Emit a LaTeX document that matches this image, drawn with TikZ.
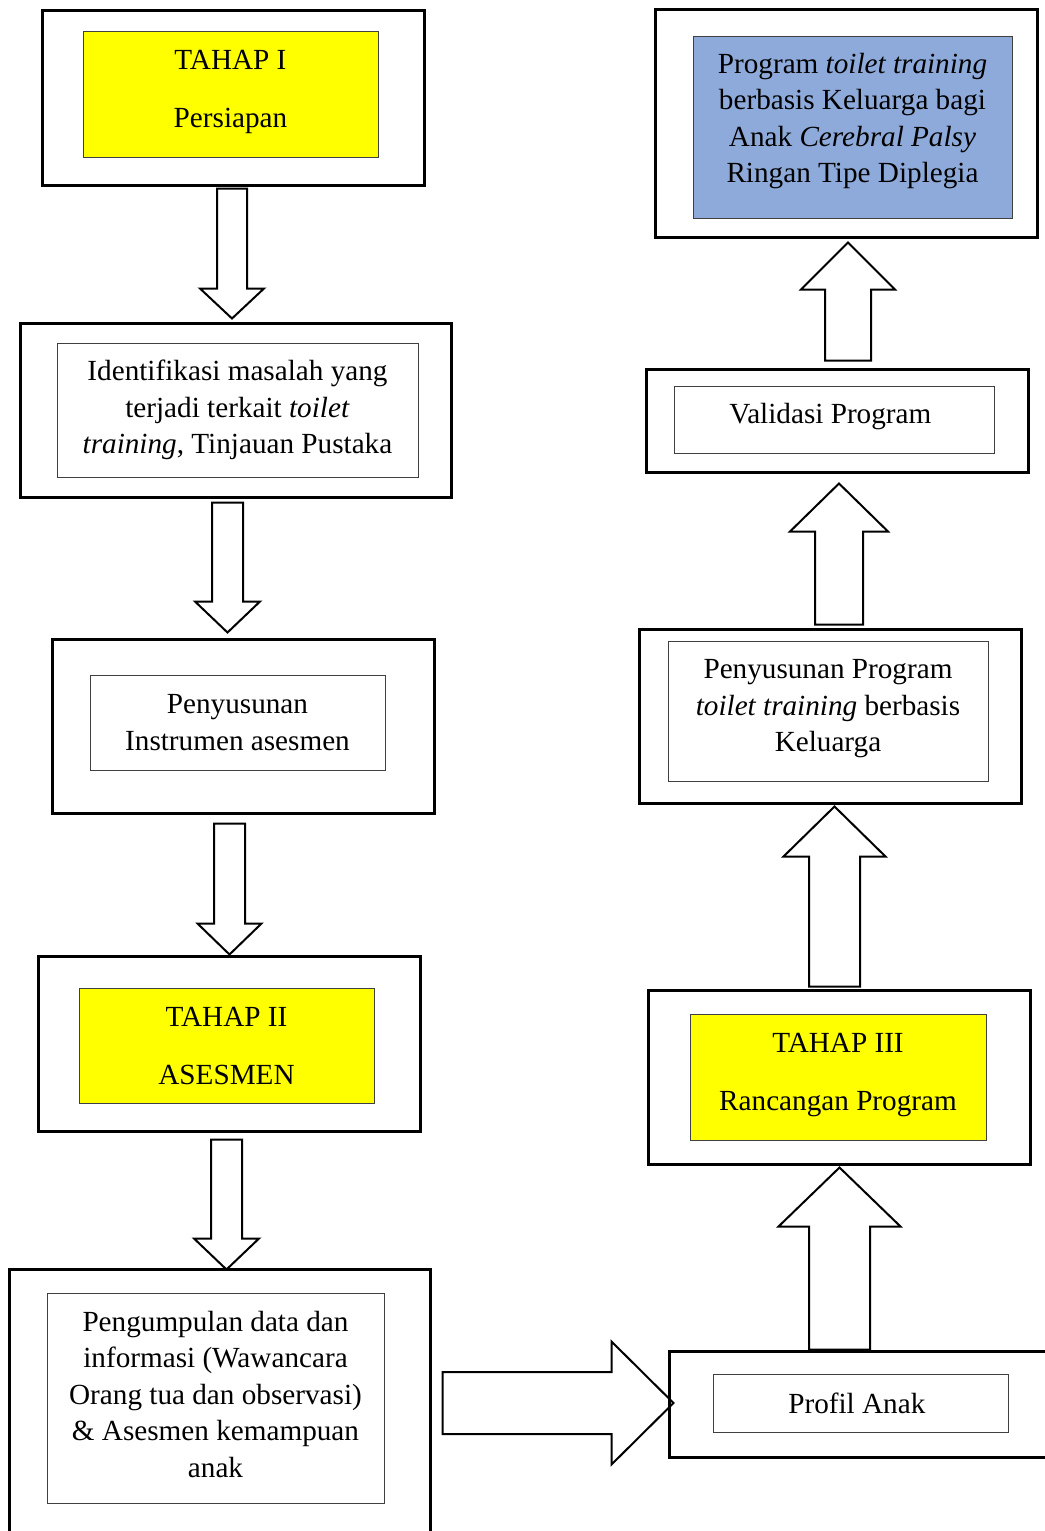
\documentclass[tikz,border=0pt]{standalone}
\usepackage{fontspec}
\setmainfont{Liberation Serif}
\usepackage{tikz}
\usetikzlibrary{calc}

\definecolor{stageyellow}{HTML}{FFFF00}
\definecolor{resultblue}{HTML}{8EAADB}

\newcommand{\blockarrow}[5]{%
  \path (#1) coordinate (ba-s);
  \path (#2) coordinate (ba-t);
  \path ($(ba-t)!#5!(ba-s)$) coordinate (ba-h);
  \draw[fatarrow] ($(ba-s)!#3!90:(ba-t)$) -- ($(ba-h)!#3!90:(ba-t)$)
    -- ($(ba-h)!#4!90:(ba-t)$) -- (ba-t) -- ($(ba-h)!#4!-90:(ba-t)$)
    -- ($(ba-h)!#3!-90:(ba-t)$) -- ($(ba-s)!#3!-90:(ba-t)$) -- cycle;
}

\begin{document}
\begin{tikzpicture}[
    x=0.5pt, y=-0.5pt,
    font={\fontsize{14.6}{18.25}\selectfont},
    outerbox/.style={
        rectangle,
        draw,
        line width=1.5pt,
        inner sep=0pt
    },
    innerbox/.style={
        rectangle,
        draw=black!75,
        line width=0.5pt,
        align=center,
        inner sep=0pt
    },
    fatarrow/.style={line width=1pt}
]
\useasboundingbox (0,0) rectangle (1044,1531);

\node[outerbox, minimum width=191pt, minimum height=87.5pt] (prep) at (233,97.5) {};
\node[innerbox, fill=stageyellow, minimum width=147.5pt, minimum height=63pt, text depth=5pt] (prep-in) at (230.5,94) {
    TAHAP I\\[10.75pt]Persiapan
};

\node[outerbox, minimum width=215.5pt, minimum height=87pt] (ident) at (235.5,410) {};
\node[innerbox, minimum width=180.5pt, minimum height=67pt] (ident-in) at (237.5,410) {
    Identifikasi masalah yang\\
    terjadi terkait \textit{toilet}\\
    \textit{training}, Tinjauan Pustaka
};

\node[outerbox, minimum width=191pt, minimum height=87pt] (instr) at (243,726) {};
\node[innerbox, minimum width=147.5pt, minimum height=47.5pt] (instr-in) at (237.5,722.5) {
    Penyusunan\\
    Instrumen asesmen
};

\node[outerbox, minimum width=191pt, minimum height=87.5pt] (asesmen) at (229,1043.5) {};
\node[innerbox, fill=stageyellow, minimum width=147.5pt, minimum height=57.5pt] (asesmen-in) at (226.5,1045.5) {
    TAHAP II\\[10.75pt]ASESMEN
};

\node[outerbox, minimum width=210.5pt, minimum height=138pt] (collect) at (219.5,1407) {};
\node[innerbox, minimum width=168.5pt, minimum height=105pt, text depth=4pt] (collect-in) at (215.5,1398) {
    Pengumpulan data dan\\
    informasi (Wawancara\\
    Orang tua dan observasi)\\
    \& Asesmen kemampuan\\
    anak
};

\node[outerbox, minimum width=195.5pt, minimum height=53pt] (profil) at (864.5,1404) {};
\node[innerbox, minimum width=147.5pt, minimum height=29pt] (profil-in) at (860.5,1403) {
    Profil Anak
};

\node[outerbox, minimum width=191pt, minimum height=87pt] (design) at (839,1077) {};
\node[innerbox, fill=stageyellow, minimum width=148pt, minimum height=63pt, text depth=5pt] (design-in) at (838,1077) {
    TAHAP III\\[10.75pt]Rancangan Program
};

\node[outerbox, minimum width=191pt, minimum height=87pt] (compose) at (830,716) {};
\node[innerbox, minimum width=160pt, minimum height=70pt, text depth=5.5pt] (compose-in) at (828,711) {
    Penyusunan Program\\
    \textit{toilet training} berbasis\\
    Keluarga
};

\node[outerbox, minimum width=191pt, minimum height=51.5pt] (valid) at (837,420.5) {};
\node[innerbox, minimum width=160pt, minimum height=33.5pt, text depth=6pt] (valid-in) at (834,419.5) {
    Validasi Program
};

\node[outerbox, minimum width=191pt, minimum height=114pt] (result) at (846,123) {};
\node[innerbox, fill=resultblue, minimum width=159.5pt, minimum height=91pt, text depth=9pt] (result-in) at (852.5,127) {
    Program \textit{toilet training}\\
    berbasis Keluarga bagi\\
    Anak \textit{Cerebral Palsy}\\
    Ringan Tipe Diplegia
};

\blockarrow{[xshift=-0.5pt,yshift=-1pt]prep.south}{$(ba-s |- ident.north)+(0pt,1.5pt)$}{7.5pt}{16pt}{15pt}
\blockarrow{[xshift=-4pt,yshift=-2pt]ident.south}{$(ba-s |- instr.north)+(0pt,2.5pt)$}{7.75pt}{16.25pt}{15.5pt}
\blockarrow{[xshift=-6.75pt,yshift=-4.5pt]instr.south}{ba-s |- asesmen.north}{7.75pt}{16pt}{15.5pt}
\blockarrow{[xshift=-1.25pt,yshift=-3.5pt]asesmen.south}{$(ba-s |- collect.north)+(0pt,-1pt)$}{7.75pt}{16.25pt}{15.5pt}
\blockarrow{$(collect.east |- profil.west)+(5.5pt,0.5pt)$}{$(ba-s -| profil.west)+(3pt,0pt)$}{15.5pt}{30.75pt}{31pt}
\blockarrow{[xshift=-12.5pt]profil.north}{$(ba-s |- design.south)+(0pt,-1pt)$}{15.25pt}{30.5pt}{29.5pt}
\blockarrow{[xshift=-2.25pt,yshift=1pt]design.north}{$(ba-s |- compose.south)+(0pt,-1pt)$}{12.75pt}{25.5pt}{25pt}
\blockarrow{[xshift=4.5pt,yshift=1.5pt]compose.north}{$(ba-s |- valid.south)+(0pt,-5pt)$}{12pt}{24.5pt}{24pt}
\blockarrow{[xshift=5.5pt,yshift=3.5pt]valid.north}{$(ba-s |- result.south)+(0pt,-2pt)$}{11.5pt}{23.5pt}{23.5pt}

\end{tikzpicture}
\end{document}
